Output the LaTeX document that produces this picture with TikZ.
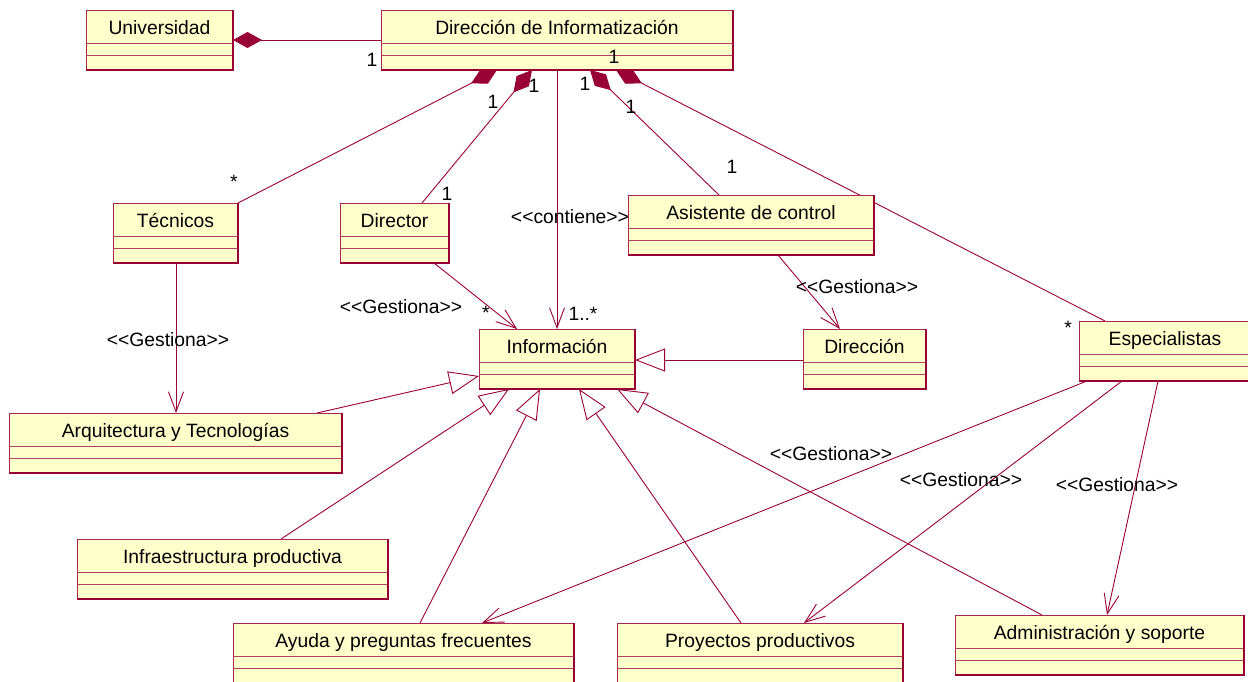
\documentclass[tikz,border=0pt]{standalone}
\usepackage{fontspec}
\setmainfont{Liberation Sans}
\usetikzlibrary{arrows.meta,calc,backgrounds}
\definecolor{umlline}{RGB}{153,0,51}
\definecolor{umlfill}{RGB}{255,255,204}
\newcommand\umlfont{\fontsize{19.3}{23}\selectfont}
% stereotype guillemets written as doubled angle brackets
\newcommand\stereo[1]{<\kern0pt<#1>\kern0pt>}
\tikzset{
  classbox/.style={draw=umlline!85, fill=umlfill, line width=1pt, anchor=north west,
                   inner sep=0pt, outer sep=0pt},
  compline/.style={draw=umlline!75, line width=0.9pt},
  edgeline/.style={draw=umlline, line width=1.5pt},
  classname/.style={anchor=base, inner sep=0pt, font=\umlfont},
  lbl/.style={inner sep=0pt, font=\umlfont},
  assoc/.style={draw=umlline, line width=0.9pt},
  comp/.style={assoc, {Diamond[length=29pt,width=16pt,fill=umlline]}-},
  nav/.style={assoc, -{Straight Barb[length=20pt,width=15pt]}},
  gen/.style={assoc, -{Triangle[length=30pt,width=23pt,fill=white]}},
}
% class box: name, left, top, width, title
\newcommand\umlclass[5]{%
  \node[classbox, minimum width=#4pt, minimum height=60pt] (#1) at (#2,#3) {};
  \draw[compline] ($(#1.north west)+(0,33)$) -- ($(#1.north east)+(0,33)$);
  \draw[compline] ($(#1.north west)+(0,45)$) -- ($(#1.north east)+(0,45)$);
  \draw[edgeline] (#1.north east) -- (#1.south east) -- (#1.south west);
  \node[classname] (#1-t) at ($(#1.north)+(0,24)$) {#5};
}
\begin{document}
\begin{tikzpicture}[x=1pt,y=-1pt]
\useasboundingbox (0,0) rectangle (1248,681);
\clip (0,0) rectangle (1248,681);

% classes
\umlclass{univ}{86}{10}{147}{Universidad}
\umlclass{dirinf}{381}{10}{352}{Dirección de Informatización}
\umlclass{tec}{113}{203}{125}{Técnicos}
\umlclass{director}{340}{203}{109}{Director}
\umlclass{asist}{628}{195}{246}{Asistente de control}
\umlclass{info}{479}{329}{156}{Información}
\umlclass{direc}{803}{329}{123}{Dirección}
\umlclass{esp}{1079}{321}{172}{Especialistas}
\umlclass{arq}{9}{413}{333}{Arquitectura y Tecnologías}
\umlclass{infra}{77}{539}{311}{Infraestructura productiva}
\umlclass{ayuda}{233}{623}{341}{Ayuda y preguntas frecuentes}
\umlclass{proy}{617}{623}{286}{Proyectos productivos}
\umlclass{admin}{955}{615}{289}{Administración y soporte}

\begin{pgfonlayer}{background}
  % compositions
  \draw[comp] (univ.east) -- (dirinf.west);
  \draw[comp] ($(dirinf.south west)+(116,0)$) -- (tec.north east);
  \draw[comp] ($(dirinf.south west)+(151,0)$) -- ($(director.north west)+(82,0)$);
  \draw[comp] ($(dirinf.south west)+(209,0)$) -- ($(asist.north west)+(91,0)$);
  \draw[comp] ($(dirinf.south west)+(235,0)$) -- ($(esp.north west)+(26,0)$);
  % navigable associations
  \draw[nav] ($(dirinf.south west)+(176,0)$) -- ($(info.north west)+(78,0)$);
  \draw[nav] ($(tec.south west)+(63,0)$) -- ($(arq.north west)+(167,0)$);
  \draw[nav] ($(director.south west)+(94,0)$) -- ($(info.north west)+(38,0)$);
  \draw[nav] ($(asist.south west)+(150,0)$) -- ($(direc.north west)+(37,0)$);
  \draw[nav] ($(esp.south west)+(8,0)$) -- ($(ayuda.north west)+(249,0)$);
  \draw[nav] ($(esp.south west)+(43,0)$) -- ($(proy.north west)+(187,0)$);
  \draw[nav] ($(esp.south west)+(79,0)$) -- ($(admin.north west)+(152,0)$);
  % generalizations
  \draw[gen] ($(direc.north west)+(0,31)$) -- ($(info.north east)+(0,31)$);
  \draw[gen] ($(arq.north west)+(308,0)$) -- ($(info.north west)+(0,47)$);
  \draw[gen] ($(infra.north west)+(204,0)$) -- ($(info.south west)+(30,0)$);
  \draw[gen] ($(ayuda.north west)+(187,0)$) -- ($(info.south west)+(61,0)$);
  \draw[gen] ($(proy.north west)+(124,0)$) -- ($(info.south west)+(100,0)$);
  \draw[gen] ($(admin.north west)+(87,0)$) -- ($(info.south west)+(138,0)$);
\end{pgfonlayer}

% multiplicities
\node[lbl] (m1) at (372,60) {1};
\node[lbl] (m2) at (614,57) {1};
\node[lbl] (m3) at (493,102) {1};
\node[lbl] (m4) at (534,86) {1};
\node[lbl] (m5) at (585,84) {1};
\node[lbl] (m6) at (631,107) {1};
\node[lbl] (m7) at (732,167) {1};
\node[lbl] (m8) at (234,182) {*};
\node[lbl] (m9) at (447,194) {1};
\node[lbl] (m10) at (486,313) {*};
\node[lbl] (m11) at (583,314) {1..*};
\node[lbl] (m12) at (1068,328) {*};

% stereotypes
\node[lbl] (s1) at (570,217) {\stereo{contiene}};
\node[lbl] (s2) at (401,307) {\stereo{Gestiona}};
\node[lbl] (s3) at (168,340) {\stereo{Gestiona}};
\node[lbl] (s4) at (857,287) {\stereo{Gestiona}};
\node[lbl] (s5) at (831,454) {\stereo{Gestiona}};
\node[lbl] (s6) at (961,480) {\stereo{Gestiona}};
\node[lbl] (s7) at (1117,485) {\stereo{Gestiona}};
\end{tikzpicture}
\end{document}
